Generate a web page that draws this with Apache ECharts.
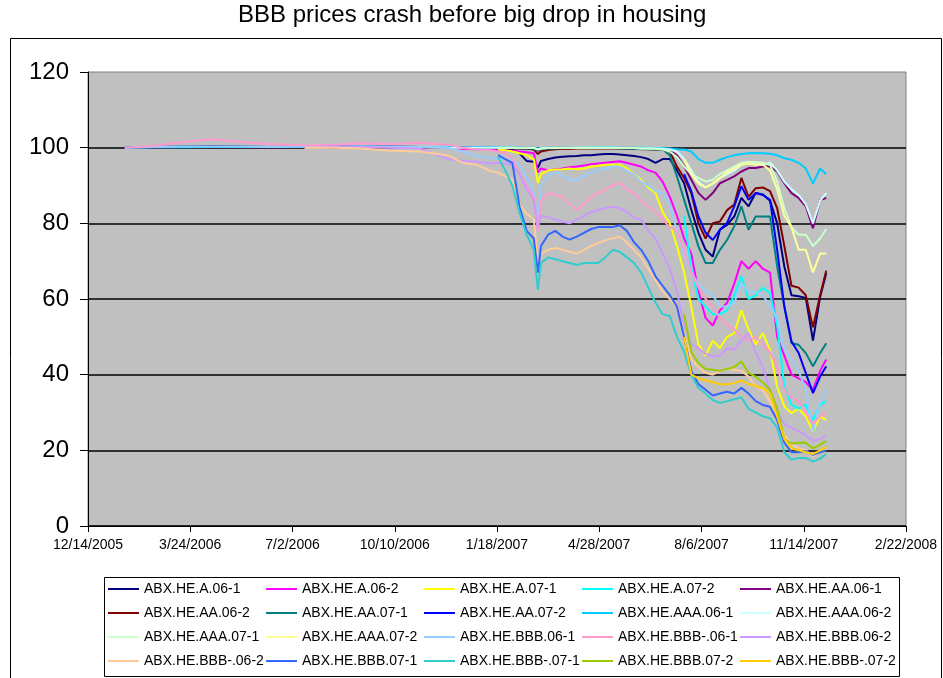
<!DOCTYPE html>
<html>
<head>
<meta charset="utf-8">
<title>BBB prices crash before big drop in housing</title>
<script src="https://cdn.jsdelivr.net/npm/echarts/dist/echarts.min.js"></script>
<style>
  html, body { margin: 0; padding: 0; background: #fff; }
  #chart { width: 943px; height: 678px; }
</style>
</head>
<body>
<div id="chart"></div>
<script>
// sample dates (shared); each series is aligned to the END of this list,
// so shorter series (later vintages) simply start later
const dates = [
  '2006-01-19', '2006-02-17', '2006-03-17', '2006-04-14', '2006-05-12', '2006-06-09',
  '2006-07-14', '2006-08-11', '2006-09-08', '2006-10-06', '2006-11-03', '2006-12-01',
  '2006-12-15', '2006-12-29', '2007-01-12',
  '2007-01-19', '2007-01-26', '2007-02-02', '2007-02-09', '2007-02-16', '2007-02-23', '2007-02-27',
  '2007-03-02', '2007-03-09', '2007-03-16', '2007-03-23', '2007-03-30',
  '2007-04-06', '2007-04-13', '2007-04-20', '2007-04-27',
  '2007-05-04', '2007-05-11', '2007-05-18', '2007-05-25',
  '2007-06-01', '2007-06-08', '2007-06-15', '2007-06-22', '2007-06-29',
  '2007-07-06', '2007-07-13', '2007-07-20', '2007-07-27',
  '2007-08-03', '2007-08-10', '2007-08-17', '2007-08-24', '2007-08-31',
  '2007-09-07', '2007-09-14', '2007-09-21', '2007-09-28',
  '2007-10-05', '2007-10-12', '2007-10-19', '2007-10-26',
  '2007-11-02', '2007-11-09', '2007-11-16', '2007-11-23', '2007-11-30', '2007-12-06'
];

// 06-1 vintage (from 2006-01-19)
const a061 = [100.0, 100.2, 100.3, 100.4, 100.3, 100.2, 100.3, 100.4, 100.4, 100.3, 100.2, 100.2, 100.1, 100.0, 99.9,
  99.8, 99.7, 99.6, 98.5, 96.5, 96.3, 94.7, 96.5, 97.0, 97.4, 97.6, 97.7, 97.8, 98.0, 98.0, 98.2,
  98.3, 98.3, 98.2, 98.0, 97.8, 97.5, 97.0, 96.0, 97.0, 97.0, 94.0, 90.6, 83.6,
  77.5, 73.0, 71.2, 78.3, 79.6, 81.8, 86.7, 84.5, 88.0, 87.6, 86.0, 80.0, 68.6,
  61.0, 60.7, 60.3, 49.0, 60.5, 66.8];
const aa061 = [100.0, 100.1, 100.2, 100.2, 100.1, 100.1, 100.2, 100.2, 100.3, 100.2, 100.1, 100.1, 100.1, 100.0, 100.0,
  99.9, 99.9, 99.9, 99.8, 99.8, 99.7, 99.2, 99.5, 99.7, 99.8, 99.8, 99.8, 99.9, 99.9, 99.9, 99.9,
  99.9, 99.9, 99.9, 99.9, 99.8, 99.8, 99.8, 99.7,
  99.5, 99.2, 98.0, 95.1, 91.5, 88.0, 86.2, 88.0, 90.6, 91.5, 92.4, 93.7, 94.6, 94.6,
  95.0, 95.0, 93.7, 90.6, 88.0, 86.7, 84.5, 78.7, 86.2, 86.7];
const aaa061 = [100.0, 100.1, 100.1, 100.2, 100.2, 100.2, 100.2, 100.2, 100.3, 100.2, 100.2, 100.2, 100.1, 100.1, 100.1,
  100.1, 100.1, 100.1, 100.0, 100.0, 100.0, 99.7, 99.9, 100.0, 100.0, 100.0, 100.0, 100.0, 100.0, 100.1, 100.1,
  100.1, 100.1, 100.0, 100.0, 100.0, 100.0, 99.9, 99.9,
  99.9, 99.8, 99.6, 99.5, 99.0, 97.0, 96.0, 96.0, 96.8, 97.5, 98.0, 98.3, 98.5, 98.6,
  98.5, 98.4, 98.0, 97.2, 96.8, 96.0, 94.5, 90.5, 94.5, 93.0];
const bbb061 = [100.0, 100.2, 100.3, 100.3, 100.3, 100.2, 100.3, 100.3, 100.4, 100.3, 100.2, 100.0, 99.0, 97.8, 97.3,
  97.0, 97.0, 96.5, 95.5, 92.0, 88.0, 80.0, 90.0, 92.5, 93.7, 92.5, 91.5, 91.5, 92.5, 93.5, 94.0,
  94.5, 95.0, 95.0, 94.0, 93.0, 91.0, 90.0, 88.5, 88.0, 85.0, 78.0, 72.0, 67.0,
  64.0, 62.0, 61.0, 58.0, 58.0, 59.0, 64.0, 62.0, 62.0, 61.0, 58.0, 55.0, 47.0,
  44.0, 41.0, 36.0, 25.0, 33.0, 36.0];
const bbbm061 = [100.0, 100.5, 101.5, 102.2, 101.5, 101.0, 100.6, 100.8, 101.2, 101.0, 101.3, 100.8, 100.0, 99.5, 99.3,
  99.0, 98.5, 97.0, 93.0, 90.0, 87.0, 78.0, 86.0, 88.0, 87.5, 87.0, 85.0, 83.6, 85.0, 87.0, 88.0,
  89.0, 90.0, 90.7, 89.0, 88.0, 86.0, 84.4, 83.0, 81.0, 79.0, 78.0, 73.0, 67.0,
  63.0, 60.0, 58.0, 55.0, 53.0, 52.0, 50.0, 49.0, 50.0, 48.0, 46.0, 42.0, 36.0,
  34.0, 33.0, 30.0, 27.0, 29.0, 30.0];

// 06-2 vintage (from 2006-07-14)
const a062 = [100.0, 100.1, 100.2, 100.1, 100.0, 99.9, 99.7, 99.6, 99.5,
  99.5, 99.3, 99.2, 99.0, 98.8, 98.5, 93.5, 94.5, 94.0, 94.3, 94.5, 94.8, 95.0, 95.3, 95.6, 95.8,
  96.0, 96.2, 96.4, 96.0, 95.5, 95.0, 94.0, 93.4, 91.0, 87.0, 82.0, 76.0, 72.0,
  62.0, 55.0, 53.0, 57.0, 59.0, 64.0, 70.0, 68.0, 70.0, 68.0, 67.0, 50.0, 45.0,
  40.0, 39.0, 38.0, 36.0, 41.0, 44.0];
const aa062 = [100.0, 100.1, 100.1, 100.1, 100.0, 100.0, 100.0, 99.9, 99.9,
  99.9, 99.9, 99.8, 99.8, 99.7, 99.5, 98.3, 99.0, 99.4, 99.6, 99.7, 99.7, 99.8, 99.8, 99.8, 99.8,
  99.8, 99.8, 99.8, 99.7, 99.7, 99.6, 99.6, 99.5,
  99.5, 99.0, 95.0, 92.0, 88.0, 80.0, 76.0, 80.0, 80.5, 83.5, 85.0, 92.0, 87.0, 89.3,
  89.5, 88.5, 84.0, 74.0, 63.5, 63.0, 61.0, 52.5, 61.0, 67.5];
const aaa062 = [100.0, 100.1, 100.1, 100.1, 100.1, 100.0, 100.0, 100.0, 100.0,
  100.0, 100.0, 100.0, 99.9, 99.9, 99.9, 99.6, 99.8, 99.9, 99.9, 99.9, 99.9, 100.0, 100.0, 100.0, 100.0,
  100.0, 100.0, 99.9, 99.9, 99.9, 99.8, 99.8, 99.8,
  99.7, 99.5, 99.0, 97.0, 94.0, 91.0, 89.5, 90.5, 92.0, 93.0, 94.0, 95.5, 96.0, 96.0,
  95.5, 96.0, 94.0, 91.0, 89.0, 87.5, 85.0, 80.0, 86.0, 88.0];
const bbb062 = [100.0, 100.3, 100.2, 100.0, 99.8, 97.0, 96.5, 96.3, 95.8,
  96.0, 95.8, 95.5, 93.0, 89.0, 86.0, 79.0, 82.0, 81.7, 81.0, 80.5, 80.0, 81.0, 82.0, 83.0, 83.5,
  84.0, 84.4, 84.0, 83.0, 81.5, 81.0, 78.0, 76.0, 72.0, 68.0, 62.0, 53.0, 48.0,
  47.0, 45.5, 44.8, 45.0, 47.0, 46.6, 49.0, 51.0, 46.0, 42.0, 36.0, 30.0, 27.0,
  26.0, 25.0, 24.0, 22.5, 23.0, 24.0];
const bbbm062 = [100.0, 100.0, 99.8, 99.2, 99.0, 98.0, 96.0, 95.5, 93.8,
  93.4, 92.5, 91.5, 85.0, 82.5, 81.0, 69.5, 72.0, 73.0, 73.5, 73.0, 72.5, 72.0, 73.0, 74.0, 74.8,
  75.5, 76.0, 76.5, 75.0, 73.0, 71.0, 68.0, 65.0, 62.0, 60.0, 58.0, 51.0, 44.0,
  42.0, 40.5, 40.0, 41.0, 41.5, 41.3, 41.0, 39.5, 37.0, 36.0, 33.0, 29.0, 24.0,
  21.5, 20.5, 20.0, 18.5, 19.5, 20.5];

// 07-1 vintage (from 2007-01-19)
const a071 = [99.5, 99.3, 99.0, 98.5, 98.0, 97.0, 90.7, 93.0, 94.0, 94.2, 94.3, 94.5, 94.3, 94.5, 95.0, 95.2,
  95.5, 95.5, 95.5, 94.5, 93.0, 91.5, 89.5, 88.0, 83.0, 80.0, 74.0, 67.0, 58.0,
  48.0, 45.0, 49.0, 47.0, 50.0, 51.0, 57.0, 52.0, 48.0, 51.0, 46.6, 36.8, 31.6,
  29.8, 31.0, 29.0, 25.0, 29.0, 28.0];
const aa071 = [100.0, 99.9, 99.9, 99.8, 99.8, 99.7, 99.3, 99.6, 99.8, 99.8, 99.9, 99.9, 99.9, 99.9, 99.9, 99.9,
  99.9, 99.9, 99.8, 99.8, 99.7, 99.7, 99.6, 99.5,
  99.5, 98.0, 92.4, 86.2, 80.1, 73.9, 69.5, 69.5, 73.0, 75.6, 79.2, 84.5, 78.3, 81.8,
  81.8, 81.8, 68.6, 58.0, 48.3, 47.9, 45.7, 42.2, 45.7, 48.3];
const aaa071 = [100.0, 100.0, 100.0, 99.9, 99.9, 99.9, 99.6, 99.8, 99.9, 99.9, 99.9, 99.9, 99.9, 100.0, 100.0, 100.0,
  100.0, 100.0, 99.9, 99.9, 99.9, 99.8, 99.8, 99.7,
  99.5, 99.0, 97.5, 95.0, 93.0, 92.0, 91.0, 91.5, 93.0, 94.0, 95.0, 96.0, 96.3, 96.2,
  96.0, 95.5, 91.0, 84.0, 79.0, 77.0, 77.0, 74.0, 76.0, 78.5];
const bbb071 = [98.0, 97.0, 96.0, 84.4, 78.0, 76.0, 67.0, 74.0, 77.0, 78.0, 76.5, 75.7, 76.5, 77.5, 78.5, 79.0,
  79.0, 79.0, 79.5, 78.0, 75.0, 73.0, 70.0, 66.0, 63.5, 61.0, 58.0, 50.0, 41.0,
  37.5, 36.0, 34.5, 35.0, 35.5, 35.0, 36.5, 35.0, 33.0, 32.0, 31.5, 28.0, 22.0,
  19.5, 19.5, 19.8, 18.8, 19.5, 20.0];
const bbbm071 = [97.5, 94.0, 90.0, 82.8, 77.0, 73.0, 62.4, 69.5, 71.0, 70.5, 70.0, 69.5, 69.0, 69.5, 69.5, 69.5,
  71.0, 73.0, 72.5, 71.0, 69.5, 67.0, 63.0, 59.0, 56.0, 55.5, 50.0, 46.0, 40.0,
  36.5, 35.0, 33.3, 32.5, 33.0, 33.5, 34.0, 31.0, 30.0, 29.0, 28.5, 26.0, 19.5,
  17.5, 18.0, 18.0, 17.0, 17.8, 19.0];

// 07-2 vintage (from 2007-07-20)
const a072 = [82.0, 68.0, 60.0, 58.0, 56.0, 56.0, 57.0, 61.0, 66.0, 60.0, 61.0,
  63.0, 61.5, 53.0, 37.0, 32.0, 31.0, 32.0, 28.0, 32.0, 33.0];
const aa072 = [93.0, 88.5, 81.8, 77.5, 75.6, 78.3, 80.1, 84.5, 89.8, 86.2, 88.0,
  87.5, 86.2, 73.0, 58.0, 48.8, 45.7, 40.4, 35.1, 39.5, 42.2];
const aaa072 = [97.0, 93.0, 90.5, 89.5, 90.5, 92.0, 93.5, 94.5, 95.5, 95.8, 95.5,
  95.5, 94.0, 89.0, 82.0, 79.0, 73.0, 73.0, 67.0, 72.0, 72.0];
const bbb072 = [56.0, 46.0, 43.0, 41.5, 41.3, 41.0, 41.5, 42.0, 43.5, 40.5, 39.5,
  38.0, 36.0, 31.0, 23.0, 21.8, 22.0, 22.0, 20.5, 21.5, 22.5];
const bbbm072 = [50.0, 40.0, 39.0, 38.5, 38.0, 37.5, 37.5, 37.7, 38.5, 37.5, 37.0,
  36.5, 35.0, 29.0, 23.0, 20.5, 20.0, 19.5, 19.0, 20.0, 21.0];

// legend / drawing order, Excel default line colours
const names = [
  'ABX.HE.A.06-1', 'ABX.HE.A.06-2', 'ABX.HE.A.07-1', 'ABX.HE.A.07-2', 'ABX.HE.AA.06-1',
  'ABX.HE.AA.06-2', 'ABX.HE.AA.07-1', 'ABX.HE.AA.07-2', 'ABX.HE.AAA.06-1', 'ABX.HE.AAA.06-2',
  'ABX.HE.AAA.07-1', 'ABX.HE.AAA.07-2', 'ABX.HE.BBB.06-1', 'ABX.HE.BBB-.06-1', 'ABX.HE.BBB.06-2',
  'ABX.HE.BBB-.06-2', 'ABX.HE.BBB.07-1', 'ABX.HE.BBB-.07-1', 'ABX.HE.BBB.07-2', 'ABX.HE.BBB-.07-2'
];
const values = [
  a061, a062, a071, a072, aa061,
  aa062, aa071, aa072, aaa061, aaa062,
  aaa071, aaa072, bbb061, bbbm061, bbb062,
  bbbm062, bbb071, bbbm071, bbb072, bbbm072
];
const colors = [
  '#000080', '#FF00FF', '#FFFF00', '#00FFFF', '#800080',
  '#800000', '#008080', '#0000FF', '#00CCFF', '#CCFFFF',
  '#CCFFCC', '#FFFF99', '#99CCFF', '#FF99CC', '#CC99FF',
  '#FFCC99', '#3366FF', '#33CCCC', '#99CC00', '#FFCC00'
];

const FONT = '"Liberation Sans", Arial, sans-serif';
const base = Date.UTC(2005, 11, 14);
const DAY = 86400000;

function dayNum(s) {
  const p = s.split('-').map(Number);
  return (Date.UTC(p[0], p[1] - 1, p[2]) - base) / DAY;
}
function dayLabel(n) {
  const t = new Date(base + n * DAY);
  return (t.getUTCMonth() + 1) + '/' + t.getUTCDate() + '/' + t.getUTCFullYear();
}

const series = names.map(function (name, i) {
  const vals = values[i];
  const off = dates.length - vals.length;
  return {
    name: name,
    type: 'line',
    symbol: 'none',
    showSymbol: false,
    data: vals.map(function (v, j) { return [dayNum(dates[off + j]), v]; }),
    lineStyle: { width: 2, color: colors[i] },
    itemStyle: { color: colors[i] },
    emphasis: { disabled: true }
  };
});

// legend as 5 columns of 4 rows, plain line swatches
const colLeft = [108, 266, 424, 582, 740];
const legends = colLeft.map(function (x, c) {
  return {
    orient: 'vertical',
    left: x,
    top: 582,
    padding: 0,
    icon: 'rect',
    itemWidth: 31,
    itemHeight: 2,
    itemGap: 10,
    selectedMode: false,
    textStyle: { fontFamily: FONT, fontSize: 14, color: '#000', lineHeight: 14 },
    data: [names[c], names[c + 5], names[c + 10], names[c + 15]]
  };
});

const chart = echarts.init(document.getElementById('chart'));
chart.setOption({
  animation: false,
  backgroundColor: '#fff',
  title: {
    text: 'BBB prices crash before big drop in housing',
    left: 238,
    top: 3,
    padding: 0,
    textStyle: { fontFamily: FONT, fontSize: 24, fontWeight: 'normal', color: '#000' }
  },
  legend: legends,
  grid: {
    left: 88, top: 72, width: 818, height: 454,
    show: true, backgroundColor: '#C0C0C0', borderColor: '#808080', borderWidth: 1
  },
  xAxis: {
    type: 'value',
    min: 0, max: 800, interval: 100,
    axisLine: { show: true, lineStyle: { color: '#000', width: 1 } },
    axisTick: { show: true, length: 6, lineStyle: { color: '#000' } },
    splitLine: { show: false },
    axisLabel: {
      margin: 12,
      fontFamily: FONT, fontSize: 14, color: '#000',
      formatter: dayLabel
    }
  },
  yAxis: {
    type: 'value',
    min: 0, max: 120, interval: 20,
    axisLine: { show: true, lineStyle: { color: '#000', width: 1 } },
    axisTick: { show: true, length: 8, lineStyle: { color: '#000' } },
    splitLine: { show: true, showMaxLine: false, lineStyle: { color: '#000', width: 1.5 } },
    axisLabel: { margin: 19, fontFamily: FONT, fontSize: 24, color: '#000' }
  },
  graphic: [
    {
      type: 'rect', silent: true, z: -1,
      shape: { x: 10.5, y: 38.5, width: 931, height: 700 },
      style: { fill: 'none', stroke: '#000', lineWidth: 1 }
    },
    {
      type: 'rect', silent: true,
      shape: { x: 104.5, y: 577.5, width: 795, height: 99 },
      style: { fill: 'none', stroke: '#000', lineWidth: 1 }
    }
  ],
  series: series
});
</script>
</body>
</html>
